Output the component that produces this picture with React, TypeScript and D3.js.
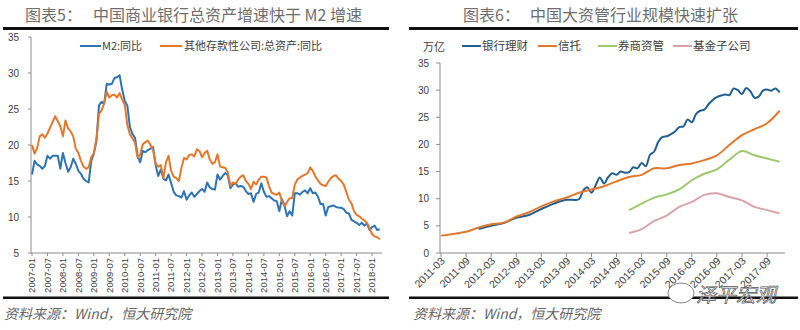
import React from 'react';
import * as d3 from 'd3';

// ---------- Left chart data (monthly, 2007-01 .. 2018-04) ----------
const leftStartMonth = '2007-01';
const m2Yoy = [
  15.9, 17.8, 17.3, 17.1, 16.7, 17.1, 18.5, 18.1, 18.5, 18.5, 18.5, 16.7,
  18.9, 17.5, 16.3, 16.9, 18.1, 17.4, 16.4, 16.0, 15.3, 15.0, 14.8, 17.8,
  18.8, 20.5, 25.5, 26.0, 25.7, 28.5, 28.4, 28.5, 29.3, 29.4, 29.7, 27.7,
  26.1, 25.5, 22.5, 21.5, 21.0, 18.5, 17.6, 19.2, 19.0, 19.3, 19.5, 19.7,
  17.2, 15.7, 16.6, 15.3, 15.1, 15.9, 14.7, 13.5, 13.0, 12.9, 12.7, 13.6,
  12.4, 13.0, 13.4, 12.8, 13.2, 13.6, 13.9, 13.5, 14.8, 14.1, 13.9, 13.8,
  15.9, 15.2, 15.7, 16.1, 15.8, 14.0, 14.5, 14.7, 14.2, 14.3, 14.2, 13.6,
  13.2, 13.3, 12.1, 13.2, 13.4, 14.7, 13.5, 12.8, 12.9, 12.6, 12.3, 12.2,
  10.8, 12.5, 11.6, 10.1, 10.8, 10.2, 13.3, 13.3, 13.1, 13.5, 13.7, 13.3,
  14.0, 13.3, 13.4, 12.8, 11.8, 11.8, 10.2, 11.4, 11.5, 11.6, 11.4, 11.3,
  11.3, 11.1, 10.6, 10.5, 9.6, 9.4, 9.2, 8.9, 9.2, 8.8, 9.1, 8.2,
  8.6, 8.8, 8.2, 8.3,
];
const odcAssetsYoy = [
  20.0, 18.8, 19.6, 21.2, 21.5, 21.0, 21.6, 22.4, 23.2, 24.0, 23.3, 22.6,
  21.2, 23.4, 22.3, 21.9, 21.2, 19.5, 18.9, 17.8, 17.0, 16.7, 16.9, 18.3,
  18.9, 20.8, 24.3, 24.8, 25.8, 27.4, 26.6, 26.9, 27.0, 26.6, 27.2, 26.3,
  25.6, 22.8, 21.5, 20.9, 20.3, 18.2, 18.7, 20.1, 20.4, 20.6, 20.0, 19.3,
  17.4, 17.0, 17.2, 15.4, 17.6, 18.5, 16.4, 15.6, 15.4, 15.0, 16.8, 18.2,
  18.0, 18.6, 18.7, 18.4, 19.4, 19.2, 18.3, 18.9, 19.2, 18.0, 17.4, 17.6,
  18.7, 17.0, 16.9, 16.8, 16.2, 14.3, 14.8, 14.6, 15.2, 15.6, 15.8, 15.0,
  14.6, 13.9, 14.9, 14.5, 15.2, 15.6, 15.6, 15.5, 14.3, 13.4, 13.2, 13.1,
  13.4, 12.2, 11.5, 12.1, 12.6, 12.6, 14.5, 15.2, 15.5, 15.7, 15.9, 16.1,
  16.9, 16.4, 15.6, 15.1, 14.6, 14.4, 14.3, 14.9, 15.4, 15.7, 15.8, 15.3,
  15.0, 14.5, 13.5, 12.4, 11.9, 10.8, 10.3, 10.1, 9.8, 9.5, 9.2, 8.5,
  7.6, 7.3, 7.2, 6.9,
];
const leftTickLabels = [
  '2007-01', '2007-07', '2008-01', '2008-07', '2009-01', '2009-07', '2010-01', '2010-07',
  '2011-01', '2011-07', '2012-01', '2012-07', '2013-01', '2013-07', '2014-01', '2014-07',
  '2015-01', '2015-07', '2016-01', '2016-07', '2017-01', '2017-07', '2018-01',
];
const leftYTicks = [5, 10, 15, 20, 25, 30, 35];

// ---------- Right chart data ----------
const rightStartMonth = '2011-03';
const bankDates = [
  '2011-12', '2012-03', '2012-06', '2012-09', '2012-12', '2013-03', '2013-06', '2013-09', '2013-12',
  '2014-01', '2014-02', '2014-03', '2014-04', '2014-05', '2014-06', '2014-07', '2014-08', '2014-09', '2014-10', '2014-11', '2014-12',
  '2015-01', '2015-02', '2015-03', '2015-04', '2015-05', '2015-06', '2015-07', '2015-08', '2015-09', '2015-10', '2015-11', '2015-12',
  '2016-01', '2016-02', '2016-03', '2016-04', '2016-05', '2016-06', '2016-07', '2016-08', '2016-09', '2016-10', '2016-11', '2016-12',
  '2017-01', '2017-02', '2017-03', '2017-04', '2017-05', '2017-06', '2017-07', '2017-08', '2017-09', '2017-10', '2017-11', '2017-12',
];
const bankWmp = [
  4.4, 5.0, 5.5, 6.5, 7.0, 8.1, 9.1, 9.8, 9.9,
  11.5, 12.1, 11.1, 12.5, 13.9, 12.8, 14.0, 14.7, 14.4, 15.0, 14.8, 14.9,
  15.8, 15.6, 16.6, 16.0, 18.1, 18.7, 20.5, 21.4, 21.5, 21.9, 22.4, 23.2,
  23.3, 24.6, 24.1, 25.6, 26.2, 26.4, 27.4, 28.2, 28.7, 29.0, 29.2, 29.1,
  30.3, 30.0, 29.3, 30.4, 29.8, 28.6, 28.8, 29.9, 30.1, 29.9, 30.3, 29.6,
];
const trustDates = [
  '2011-03', '2011-06', '2011-09', '2011-12', '2012-03', '2012-06', '2012-09', '2012-12',
  '2013-03', '2013-06', '2013-09', '2013-12', '2014-03', '2014-06', '2014-09', '2014-12',
  '2015-03', '2015-06', '2015-09', '2015-12', '2016-03', '2016-06', '2016-09', '2016-12',
  '2017-03', '2017-06', '2017-09', '2017-12',
];
const trust = [
  3.2, 3.5, 3.9, 4.7, 5.3, 5.6, 6.7, 7.5,
  8.6, 9.5, 10.2, 11.1, 11.7, 12.3, 13.2, 14.0,
  14.4, 15.6, 15.6, 16.2, 16.5, 17.1, 18.0, 19.9,
  21.7, 22.8, 23.9, 26.2,
];
const quarterDates = [
  '2014-12', '2015-03', '2015-06', '2015-09', '2015-12', '2016-03', '2016-06',
  '2016-09', '2016-12', '2017-03', '2017-06', '2017-09', '2017-12',
];
const brokerAM = [7.9, 9.1, 10.2, 10.8, 11.7, 13.4, 14.6, 15.4, 17.2, 18.8, 18.0, 17.4, 16.8];
const fundSubs = [3.7, 4.4, 5.9, 6.9, 8.5, 9.4, 10.7, 11.0, 10.3, 9.7, 8.5, 7.9, 7.3];
const rightTickLabels = [
  '2011-03', '2011-09', '2012-03', '2012-09', '2013-03', '2013-09', '2014-03',
  '2014-09', '2015-03', '2015-09', '2016-03', '2016-09', '2017-03', '2017-09',
];
const rightYTicks = [0, 5, 10, 15, 20, 25, 30, 35];

const parseMonth = (s: string) => {
  const [y, m] = s.split('-').map(Number);
  return y * 12 + m - 1;
};

const CJK = '"Noto Sans CJK SC", "Noto Sans", sans-serif';
const NUM = '"Liberation Sans", Arial, sans-serif';

export default function App() {
  // Left scales
  const xL = d3.scaleLinear().domain([0, 135]).range([32, 379.8]);
  const yL = d3.scaleLinear().domain([5, 35]).range([253, 37]);
  const lineL = d3
    .line<number>()
    .x((_, i) => xL(i))
    .y((d) => yL(d));
  const l0 = parseMonth(leftStartMonth);

  // Right scales
  const r0 = parseMonth(rightStartMonth);
  const xR = d3.scaleLinear().domain([0, 81]).range([441, 779.6]);
  const yR = d3.scaleLinear().domain([0, 35]).range([253, 63]);
  const lineR = d3
    .line<[string, number]>()
    .x((d) => xR(parseMonth(d[0]) - r0))
    .y((d) => yR(d[1]))
    .curve(d3.curveCatmullRom.alpha(0.5));
  const zip = (a: string[], b: number[]) => a.map((d, i) => [d, b[i]] as [string, number]);

  const rightSeries = [
    { name: '银行理财', color: '#215f92', pts: zip(bankDates, bankWmp) },
    { name: '信托', color: '#e3782d', pts: zip(trustDates, trust) },
    { name: '券商资管', color: '#9cc96b', pts: zip(quarterDates, brokerAM) },
    { name: '基金子公司', color: '#d9a3aa', pts: zip(quarterDates, fundSubs) },
  ];
  const rightLegendX = [462, 538, 598, 673];

  return (
    <div style={{ position: 'absolute', left: 0, top: 0 }}>
      <svg width={800} height={330} style={{ display: 'block', background: '#fff' }}>
        {/* Titles */}
        <g fontFamily={CJK} fontSize={16} fill="#6e6e6e">
          <text x={25} y={21}>图表5：</text>
          <text x={93} y={21}>中国商业银行总资产增速快于 M2 增速</text>
          <text x={463} y={21}>图表6：</text>
          <text x={530} y={21}>中国大资管行业规模快速扩张</text>
        </g>
        <rect x={3} y={27} width={386} height={3} fill="#111" />
        <rect x={409} y={27} width={389} height={3} fill="#111" />
        <rect x={3} y={296.5} width={386} height={2.5} fill="#111" />
        <rect x={409} y={296.5} width={389} height={2.5} fill="#111" />

        {/* ---------- Left chart ---------- */}
        <line x1={31} x2={31} y1={37} y2={253} stroke="#8c8c8c" />
        <line x1={31} x2={382} y1={253} y2={253} stroke="#8c8c8c" />
        {leftYTicks.map((t) => (
          <g key={t}>
            <line x1={28} x2={31} y1={yL(t)} y2={yL(t)} stroke="#8c8c8c" />
            <text x={19} y={yL(t)} dy="0.35em" textAnchor="end" fontFamily={NUM} fontSize={10} fill="#404040">
              {t}
            </text>
          </g>
        ))}
        {leftTickLabels.map((lab) => {
          const x = xL(parseMonth(lab) - l0);
          return (
            <g key={lab}>
              <line x1={x} x2={x} y1={253} y2={256} stroke="#8c8c8c" />
              <text
                transform={`translate(${x},258) rotate(-90)`}
                dy="0.35em"
                textAnchor="end"
                fontFamily={NUM}
                fontSize={9.5}
                fill="#404040"
              >
                {lab}
              </text>
            </g>
          );
        })}
        <path d={lineL(m2Yoy) || ''} fill="none" stroke="#2e74b5" strokeWidth={2} strokeLinejoin="round" />
        <path d={lineL(odcAssetsYoy) || ''} fill="none" stroke="#e3782d" strokeWidth={2} strokeLinejoin="round" />
        {/* Left legend */}
        <g fontFamily={CJK} fontSize={11} fill="#404040">
          <line x1={80} x2={101} y1={46} y2={46} stroke="#2e74b5" strokeWidth={2} />
          <text x={102} y={46} dy="0.35em">M2:同比</text>
          <line x1={160} x2={182} y1={46} y2={46} stroke="#e3782d" strokeWidth={2} />
          <text x={184} y={46} dy="0.35em">其他存款性公司:总资产:同比</text>
        </g>

        {/* ---------- Right chart ---------- */}
        <line x1={440} x2={440} y1={63} y2={253} stroke="#8c8c8c" />
        <line x1={440} x2={785} y1={253} y2={253} stroke="#8c8c8c" />
        {rightYTicks.map((t) => (
          <g key={t}>
            <line x1={436} x2={440} y1={yR(t)} y2={yR(t)} stroke="#8c8c8c" />
            <text x={429} y={yR(t)} dy="0.35em" textAnchor="end" fontFamily={NUM} fontSize={10} fill="#404040">
              {t}
            </text>
          </g>
        ))}
        {rightTickLabels.map((lab) => {
          const x = xR(parseMonth(lab) - r0);
          return (
            <g key={lab}>
              <line x1={x} x2={x} y1={253} y2={257} stroke="#8c8c8c" />
              <text
                transform={`translate(${x + 2},259) rotate(-45)`}
                dy="0.35em"
                textAnchor="end"
                fontFamily={NUM}
                fontSize={10.5}
                fill="#404040"
              >
                {lab}
              </text>
            </g>
          );
        })}
        {rightSeries.map((s) => (
          <path key={s.name} d={lineR(s.pts) || ''} fill="none" stroke={s.color} strokeWidth={2} strokeLinejoin="round" />
        ))}
        <text x={423} y={47} dy="0.35em" fontFamily={CJK} fontSize={11} fill="#404040">万亿</text>
        <g fontFamily={CJK} fontSize={11.5} fill="#404040">
          {rightSeries.map((s, i) => (
            <g key={s.name}>
              <line x1={rightLegendX[i]} x2={rightLegendX[i] + 19} y1={46} y2={46} stroke={s.color} strokeWidth={2} />
              <text x={rightLegendX[i] + 20} y={46} dy="0.35em">{s.name}</text>
            </g>
          ))}
        </g>

        {/* Footers */}
        <g fontFamily={CJK} fontSize={14} fill="#666" fontStyle="italic">
          <text x={4} y={319}>资料来源：Wind，恒大研究院</text>
          <text x={413} y={319}>资料来源：Wind，恒大研究院</text>
        </g>

        {/* Watermark */}
        <ellipse cx={681} cy={293} rx={13} ry={10} fill="#fff" stroke="#888" strokeWidth={1} />
        <text x={696} y={302} fontFamily={CJK} fontSize={20} fontStyle="italic" fill="#fff" stroke="#555" strokeWidth={0.7}>
          泽平宏观
        </text>
      </svg>
    </div>
  );
}
